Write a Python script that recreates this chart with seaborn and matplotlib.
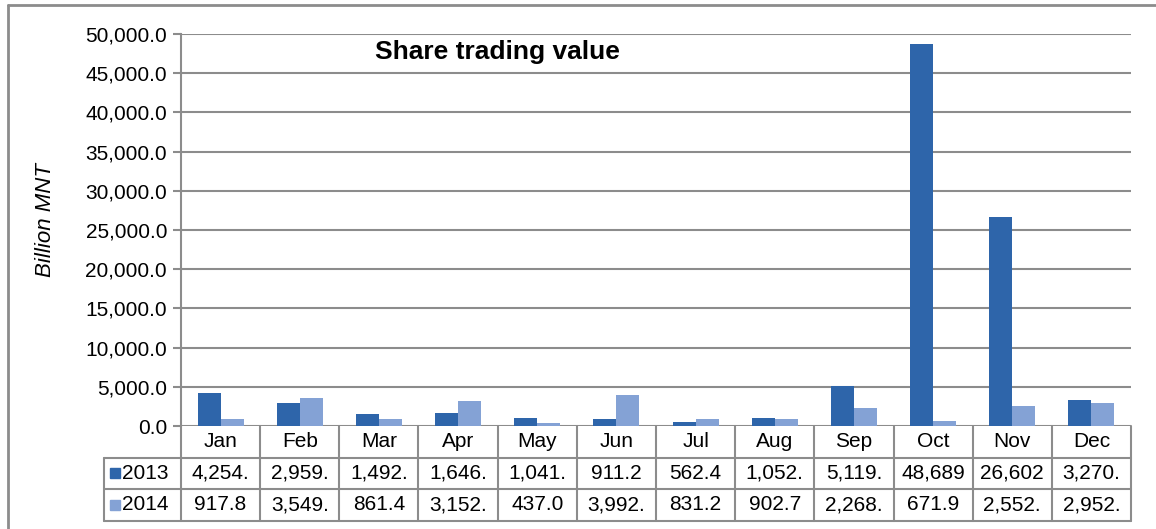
import matplotlib
matplotlib.use('Agg')
import numpy as np
import pandas as pd
import seaborn as sns
from matplotlib import pyplot as plt
from matplotlib import transforms
from matplotlib.lines import Line2D
from matplotlib.patches import Rectangle

months = ['Jan', 'Feb', 'Mar', 'Apr', 'May', 'Jun',
          'Jul', 'Aug', 'Sep', 'Oct', 'Nov', 'Dec']
years = ['2013', '2014']
vals_2013 = [4254.0, 2959.0, 1492.0, 1646.0, 1041.0, 911.2,
             562.4, 1052.0, 5119.0, 48689.0, 26602.0, 3270.0]
vals_2014 = [917.8, 3549.0, 861.4, 3152.0, 437.0, 3992.0,
             831.2, 902.7, 2268.0, 671.9, 2552.0, 2952.0]
yticks = np.arange(0, 50001, 5000)
colors = {'2013': '#2E65AA', '2014': '#84A2D5'}
GRID = '#8C8C8C'


def table_label(v):
    # excel cuts the number to the cell width
    return f'{v:,.1f}'[:6]


df = pd.DataFrame({'month': months * 2,
                   'year': ['2013'] * 12 + ['2014'] * 12,
                   'value': vals_2013 + vals_2014})

sns.set_style('white')
plt.rcParams['font.family'] = ['Liberation Sans', 'DejaVu Sans']
plt.rcParams['text.color'] = 'black'
plt.rcParams['ytick.labelcolor'] = 'black'

fig = plt.figure(figsize=(11.56, 5.29), dpi=100)
ax = fig.add_axes([181 / 1156, 1 - 426 / 529, 950 / 1156, 392 / 529])

sns.barplot(data=df, x='month', y='value', hue='year', order=months,
            hue_order=years, palette=colors, width=0.58, saturation=1,
            edgecolor='none', legend=False, ax=ax, zorder=3)

ax.set_xlim(-0.5, 11.5)
ax.set_ylim(0, 50000)
ax.set_yticks(yticks)
ax.set_yticklabels([f'{t:,.1f}' for t in yticks], fontsize=15, color='black')
ax.tick_params(axis='y', length=6, width=1.5, color=GRID, pad=4, left=True)
ax.set_xticks([])
ax.set_xlabel('')
ax.set_ylabel('')
ax.text(-0.143, 0.525, 'Billion MNT', transform=ax.transAxes, rotation=90,
        ha='center', va='center', fontsize=16, style='italic')
ax.grid(axis='y', color=GRID, linewidth=1.5, zorder=0)
for s in ['top', 'right', 'bottom']:
    ax.spines[s].set_visible(False)
ax.spines['left'].set_color(GRID)
ax.spines['left'].set_linewidth(1.5)

ax.text(0.333, 0.955, 'Share trading value', transform=ax.transAxes,
        ha='center', va='center', fontsize=19, fontweight='bold')

# data table under the axis
trans = transforms.blended_transform_factory(ax.transData, ax.transAxes)
rh = 31.5 / 392
left = -77 / 950
kw = dict(color=GRID, linewidth=1.5, clip_on=False, zorder=4)
for i in range(13):
    ax.add_line(Line2D([i - 0.5, i - 0.5], [0, -3 * rh], transform=trans, **kw))
for r in range(1, 4):
    ax.add_line(Line2D([left, 1], [-r * rh, -r * rh], transform=ax.transAxes, **kw))
ax.add_line(Line2D([left, left], [-rh, -3 * rh], transform=ax.transAxes, **kw))

for i, m in enumerate(months):
    ax.text(i, -0.5 * rh, m, transform=trans, ha='center', va='center',
            fontsize=15, clip_on=False)
    ax.text(i, -1.5 * rh, table_label(vals_2013[i]), transform=trans,
            ha='center', va='center', fontsize=15, clip_on=False)
    ax.text(i, -2.5 * rh, table_label(vals_2014[i]), transform=trans,
            ha='center', va='center', fontsize=15, clip_on=False)

for r, y in enumerate(years):
    yc = -(1.5 + r) * rh
    ax.add_patch(Rectangle((left + 6 / 950, yc - 5 / 392), 10 / 950, 10 / 392,
                           transform=ax.transAxes, color=colors[y],
                           clip_on=False))
    ax.text(left + 18 / 950, yc, y, transform=ax.transAxes, ha='left',
            va='center', fontsize=15, clip_on=False)

# outer chart frame
fig.add_artist(Line2D([8 / 1156, 1], [1 - 5 / 529, 1 - 5 / 529],
                      transform=fig.transFigure, color=GRID, linewidth=2))
fig.add_artist(Line2D([8 / 1156, 8 / 1156], [0, 1 - 5 / 529],
                      transform=fig.transFigure, color=GRID, linewidth=2))

fig.savefig('out.png', dpi=100)
